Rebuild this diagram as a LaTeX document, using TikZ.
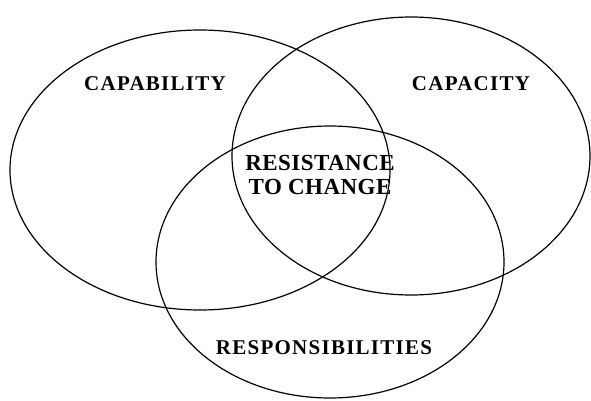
\documentclass[tikz,border=0pt]{standalone}
\usepackage{fontspec}
\usetikzlibrary{shapes.geometric}
\newfontfamily\lblfont{Liberation Serif}[LetterSpace=6]
\newfontfamily\lblfontB{Liberation Serif}[LetterSpace=2]
\tikzset{
  venn/.style={ellipse, draw=black, line width=1.2pt, inner sep=0pt},
  lbl/.style={font=\lblfont\bfseries\fontsize{21}{24}\selectfont, inner sep=0pt},
  lblc/.style={font=\lblfontB\bfseries\fontsize{23}{24}\selectfont, inner sep=0pt, align=center}
}
\begin{document}
\begin{tikzpicture}[x=1pt,y=-1pt]
\useasboundingbox[fill=white] (0,0) rectangle (591,401);
\node[venn, minimum width=380pt, minimum height=280pt] (capab) at (200,170) {};
\node[venn, minimum width=358pt, minimum height=278pt] (capac) at (411,156) {};
\node[venn, minimum width=348pt, minimum height=272pt] (resp) at (330,262) {};
\node[lbl] (tcapab) at (155,84) {CAPABILITY};
\node[lbl] (tcapac) at (471,84) {CAPACITY};
\node[lblc] (tres) at (320,175) {RESISTANCE\\TO CHANGE};
\node[lbl] (tresp) at (324,348) {RESPONSIBILITIES};
\end{tikzpicture}
\end{document}
